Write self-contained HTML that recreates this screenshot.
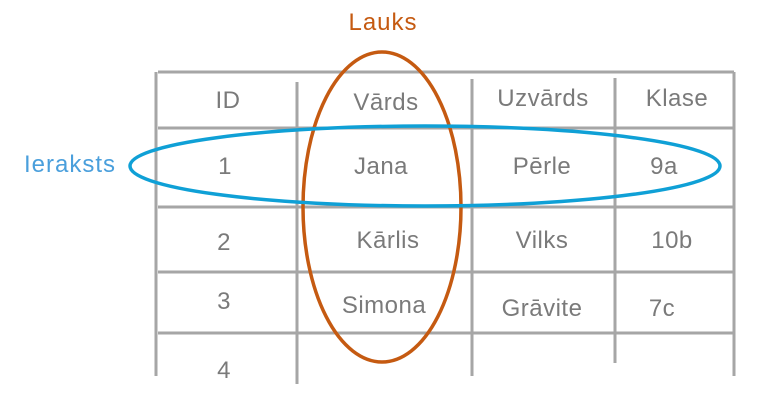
<!DOCTYPE html>
<html><head><meta charset="utf-8"><style>
body{margin:0;background:#fff;width:772px;height:410px;overflow:hidden}
</style></head><body>
<svg width="772" height="410" xmlns="http://www.w3.org/2000/svg" font-family="Liberation Sans, sans-serif">
<g stroke="#a6a6a6" stroke-width="3" fill="none">
<line x1="158" y1="72" x2="734" y2="72"/>
<line x1="158" y1="128" x2="734" y2="128"/>
<line x1="158" y1="207" x2="734" y2="207"/>
<line x1="158" y1="272" x2="734" y2="272"/>
<line x1="158" y1="333" x2="734" y2="333"/>
<line x1="156" y1="72" x2="156" y2="376"/>
<line x1="297" y1="82" x2="297" y2="384"/>
<line x1="472" y1="79" x2="472" y2="376"/>
<line x1="615" y1="78" x2="615" y2="363"/>
<line x1="734" y1="72" x2="734" y2="376"/>
</g>
<g fill="#7a7a7a" font-size="24" text-anchor="middle" letter-spacing="0.5">
<text x="228" y="108">ID</text>
<text x="386" y="110">Vārds</text>
<text x="543" y="106">Uzvārds</text>
<text x="677" y="106">Klase</text>
<text x="225" y="174">1</text>
<text x="381" y="174">Jana</text>
<text x="542" y="174">Pērle</text>
<text x="664" y="174">9a</text>
<text x="224" y="250">2</text>
<text x="388" y="248">Kārlis</text>
<text x="542" y="248">Vilks</text>
<text x="672" y="248">10b</text>
<text x="224" y="309">3</text>
<text x="384" y="313">Simona</text>
<text x="542" y="316">Grāvite</text>
<text x="662" y="316">7c</text>
<text x="224" y="378">4</text>
</g>
<ellipse cx="382" cy="207" rx="79" ry="155" fill="none" stroke="#c55a11" stroke-width="3.5"/>
<ellipse cx="425" cy="166" rx="295" ry="40" fill="none" stroke="#0fa0d6" stroke-width="3.5"/>
<text x="383" y="30" fill="#c55a11" font-size="24" text-anchor="middle" letter-spacing="1">Lauks</text>
<text x="70" y="172" fill="#4a9fdc" font-size="24" text-anchor="middle" letter-spacing="1">Ieraksts</text>
</svg>
</body></html>
